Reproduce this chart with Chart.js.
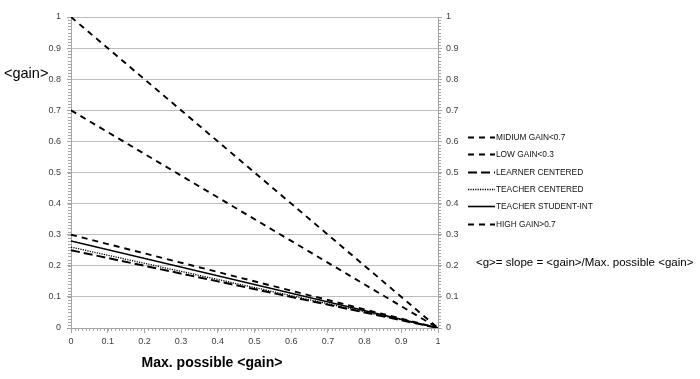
<!DOCTYPE html>
<html>
<head>
<meta charset="utf-8">
<script src="https://cdn.jsdelivr.net/npm/chart.js@4.4.1/dist/chart.umd.min.js"></script>
<style>
  html, body { margin: 0; padding: 0; background: #ffffff; }
  #wrap { position: relative; width: 700px; height: 379px; }
</style>
</head>
<body>
<div id="wrap"><canvas id="c" width="700" height="379"></canvas></div>
<script>
// ---- data ----
const xValues = [0, 1];
const seriesNames = ['MIDIUM GAIN<0.7', 'LOW GAIN<0.3', 'LEARNER CENTERED', 'TEACHER CENTERED', 'TEACHER STUDENT-INT', 'HIGH GAIN>0.7'];
const midiumGain = [0.7, 0];
const lowGain = [0.3, 0];
const learnerCentered = [0.25, 0];
const teacherCentered = [0.26, 0];
const teacherStudentInt = [0.28, 0];
const highGain = [1, 0];
const tickValues = [0, 0.1, 0.2, 0.3, 0.4, 0.5, 0.6, 0.7, 0.8, 0.9, 1];
const yTitle = '<gain>';
const xTitle = 'Max. possible <gain>';
const noteText = '<g>= slope = <gain>/Max. possible <gain>';

const seriesValues = [midiumGain, lowGain, learnerCentered, teacherCentered, teacherStudentInt, highGain];
const seriesStyles = [
  { dash: [6, 5], width: 1.9 },
  { dash: [6, 5], width: 1.9 },
  { dash: [9, 4], width: 2 },
  { dash: [1.2, 1.2], width: 1.3 },
  { dash: [], width: 1.6 },
  { dash: [6, 5], width: 1.9 }
];

const datasets = seriesNames.map((name, i) => ({
  label: name,
  data: xValues.map((x, j) => ({ x: x, y: seriesValues[i][j] })),
  borderColor: '#000000',
  backgroundColor: '#000000',
  borderWidth: seriesStyles[i].width,
  borderDash: seriesStyles[i].dash,
  pointRadius: 0,
  fill: false,
  tension: 0,
  yAxisID: 'y'
}));

const axisGray = '#a6a6a6';
const gridGray = '#bdbdbd';
const tickFont = { family: "'Liberation Sans', Arial, sans-serif", size: 9 };

const extras = {
  id: 'extras',
  afterDraw(chart) {
    const ctx = chart.ctx;
    const xs = chart.scales.x, ys = chart.scales.y;
    const ca = chart.chartArea;
    ctx.save();
    // minor ticks
    ctx.strokeStyle = axisGray;
    ctx.lineWidth = 1;
    ctx.beginPath();
    for (let k = 0; k <= 100; k++) {
      const v = k / 100;
      const py = Math.round(ys.getPixelForValue(v)) + 0.5;
      ctx.moveTo(ca.left - 3, py); ctx.lineTo(ca.left, py);
      ctx.moveTo(ca.right, py); ctx.lineTo(ca.right + 3, py);
      const px = Math.round(xs.getPixelForValue(v)) + 0.5;
      ctx.moveTo(px, ca.bottom); ctx.lineTo(px, ca.bottom + 3);
    }
    ctx.stroke();

    // axis titles
    ctx.fillStyle = '#000000';
    ctx.textBaseline = 'middle';
    ctx.textAlign = 'left';
    ctx.font = "14.5px 'Liberation Sans', Arial, sans-serif";
    ctx.fillText(yTitle, 4, 74);
    ctx.textAlign = 'center';
    ctx.font = "bold 14px 'Liberation Sans', Arial, sans-serif";
    ctx.fillText(xTitle, 212, 363);

    // legend
    const lx0 = 468, lx1 = 495, ly0 = 137, lstep = 17.3;
    ctx.textAlign = 'left';
    ctx.font = "8.3px 'Liberation Sans', Arial, sans-serif";
    chart.data.datasets.forEach((ds, i) => {
      const yy = Math.round(ly0 + i * lstep) + 0.5;
      ctx.save();
      ctx.strokeStyle = ds.borderColor;
      ctx.lineWidth = ds.borderWidth;
      ctx.setLineDash(ds.borderDash);
      ctx.beginPath();
      ctx.moveTo(lx0, yy); ctx.lineTo(lx1, yy);
      ctx.stroke();
      ctx.restore();
      ctx.fillStyle = '#111111';
      ctx.fillText(ds.label, lx1 + 1, yy + 0.5);
    });

    // note
    ctx.font = "11.5px 'Liberation Sans', Arial, sans-serif";
    ctx.fillStyle = '#000000';
    ctx.fillText(noteText, 476, 263);
    ctx.restore();
  }
};

new Chart(document.getElementById('c'), {
  type: 'line',
  data: { datasets: datasets },
  options: {
    responsive: false,
    animation: false,
    devicePixelRatio: 1,
    layout: { padding: { top: 17, left: 0, right: 0, bottom: 0 } },
    plugins: { legend: { display: false }, tooltip: { enabled: false }, title: { display: false } },
    scales: {
      x: {
        type: 'linear', min: 0, max: 1,
        afterBuildTicks(s) { s.ticks = tickValues.map(v => ({ value: v })); },
        afterFit(s) { s.height = 51; },
        grid: { drawOnChartArea: false, drawTicks: true, tickLength: 5, color: axisGray, tickColor: axisGray },
        border: { display: true, color: axisGray, width: 1 },
        ticks: { font: tickFont, color: '#404040', padding: 3, maxRotation: 0, autoSkip: false,
          callback: v => String(Math.round(v * 10) / 10) }
      },
      y: {
        type: 'linear', position: 'left', min: 0, max: 1,
        afterBuildTicks(s) { s.ticks = tickValues.map(v => ({ value: v })); },
        afterFit(s) { s.width = 71; },
        grid: { color: gridGray, lineWidth: 1, drawTicks: true, tickLength: 4, tickColor: axisGray },
        border: { display: true, color: axisGray, width: 1 },
        ticks: { font: tickFont, color: '#404040', padding: 6, autoSkip: false,
          callback: v => String(Math.round(v * 10) / 10) }
      },
      y2: {
        type: 'linear', position: 'right', min: 0, max: 1,
        afterBuildTicks(s) { s.ticks = tickValues.map(v => ({ value: v })); },
        afterFit(s) { s.width = 262; },
        grid: { drawOnChartArea: false, drawTicks: true, tickLength: 4, tickColor: axisGray },
        border: { display: true, color: axisGray, width: 1 },
        ticks: { font: tickFont, color: '#404040', padding: 4, autoSkip: false,
          callback: v => String(Math.round(v * 10) / 10) }
      }
    }
  },
  plugins: [extras]
});
</script>
</body>
</html>
